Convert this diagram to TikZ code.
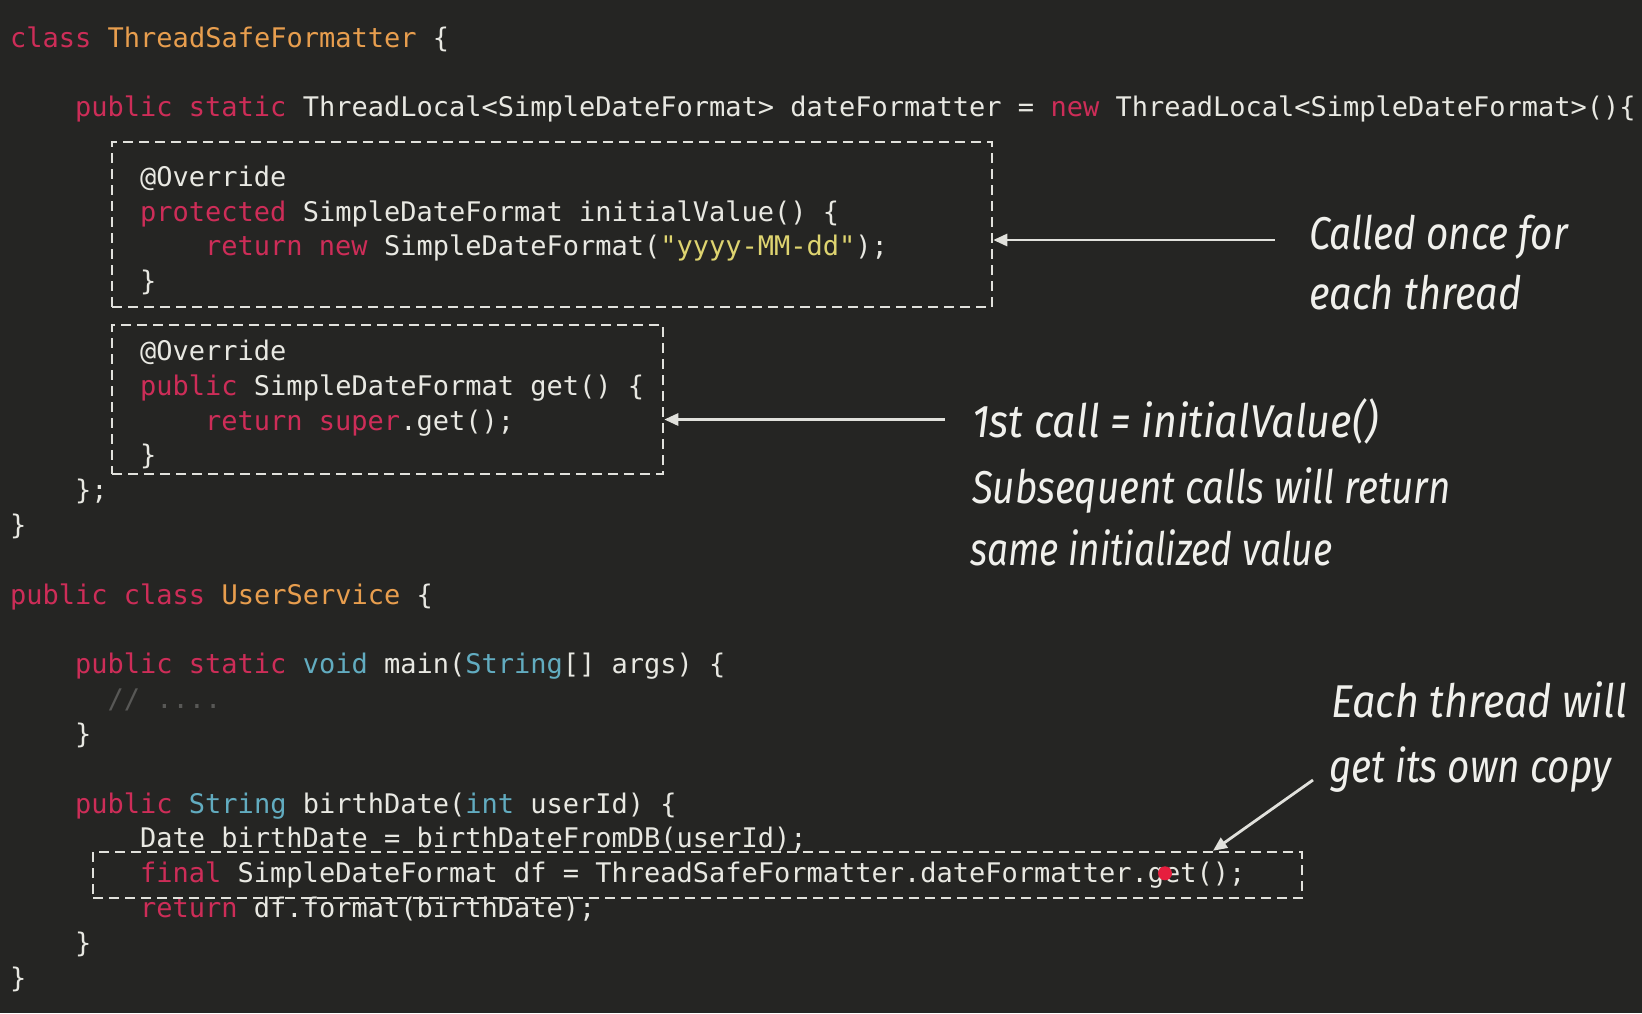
\documentclass[tikz,border=0pt]{standalone}
\usepackage{fontspec}
\setmonofont{DejaVu Sans Mono}
\newfontfamily\handfont{Fira Sans}
\usetikzlibrary{arrows.meta,fit,calc}
\definecolor{bg}{RGB}{37,37,35}
\definecolor{fg}{RGB}{232,232,226}
\definecolor{kw}{RGB}{205,45,88}
\definecolor{cl}{RGB}{232,158,78}
\definecolor{ty}{RGB}{98,172,192}
\definecolor{strc}{RGB}{222,212,112}
\definecolor{cm}{RGB}{88,88,86}
\definecolor{boxc}{RGB}{225,225,220}
\definecolor{hw}{RGB}{240,240,236}
\definecolor{dot}{RGB}{230,30,62}
\newcommand\kwd[1]{\textcolor{kw}{#1}}
\newcommand\cls[1]{\textcolor{cl}{#1}}
\newcommand\typ[1]{\textcolor{ty}{#1}}
\newcommand\strg[1]{\textcolor{strc}{#1}}
\newcommand\cmt[1]{\textcolor{cm}{#1}}
\newcommand\hwtext[2]{\resizebox{#1}{\height}{\handfont\itshape #2}}
\begin{document}
\begin{tikzpicture}[x=1pt,y=-1pt,
  code/.style={anchor=base west,inner sep=0pt,text=fg,font=\ttfamily\fontsize{27}{32}\selectfont},
  hand/.style={anchor=base west,inner sep=0pt,text=hw,font=\fontsize{46}{50}\selectfont},
  dbox/.style={draw=boxc,line width=2.5pt,dash pattern=on 10pt off 6pt,inner sep=0pt},
  arr/.style={draw=boxc,line width=2.8pt,-{Triangle[length=14pt,width=12pt]}}]
\useasboundingbox (0,0) rectangle (1642,1013);
\fill[bg] (0,0) rectangle (1642,1013);

% code lines
\node[code] (c0)  at (10,47)      {\kwd{class} \cls{ThreadSafeFormatter} \{};
\node[code] (c1)  at (75,116.6)   {\kwd{public static} ThreadLocal<SimpleDateFormat> dateFormatter = \kwd{new} ThreadLocal<SimpleDateFormat>()\{};
\node[code] (c2)  at (140,186.3)  {@Override};
\node[code] (c3)  at (140,221.1)  {\kwd{protected} SimpleDateFormat initialValue() \{};
\node[code] (c4)  at (205,255.9)  {\kwd{return new} SimpleDateFormat(\strg{"yyyy-MM-dd"});};
\node[code] (c5)  at (140,290.7)  {\}};
\node[code] (c6)  at (140,360.4)  {@Override};
\node[code] (c7)  at (140,395.2)  {\kwd{public} SimpleDateFormat get() \{};
\node[code] (c8)  at (205,430.0)  {\kwd{return super}.get();};
\node[code] (c9)  at (140,464.8)  {\}};
\node[code] (c10) at (75,499.7)   {\};};
\node[code] (c11) at (10,534.5)   {\}};
\node[code] (c12) at (10,604.1)   {\kwd{public class} \cls{UserService} \{};
\node[code] (c13) at (75,673.8)   {\kwd{public static} \typ{void} main(\typ{String}[] args) \{};
\node[code] (c14) at (107.5,708.6){\cmt{// ....}};
\node[code] (c15) at (75,743.4)   {\}};
\node[code] (c16) at (75,813.0)   {\kwd{public} \typ{String} birthDate(\typ{int} userId) \{};
\node[code] (c17) at (140,847.9)  {Date birthDate = birthDateFromDB(userId);};
\node[code] (c18) at (140,882.7)  {\kwd{final} SimpleDateFormat df = ThreadSafeFormatter.dateFormatter.get();};
\node[code] (c19) at (140,917.5)  {\kwd{return} df.format(birthDate);};
\node[code] (c20) at (75,952.3)   {\}};
\node[code] (c21) at (10,987.1)   {\}};

% dashed boxes
\node[dbox,fit={(112,142) (992,307)}] (box1) {};
\node[dbox,fit={(112,325) (663,474)}] (box2) {};
\node[dbox,fit={(93,852) (1302,898)}] (box3) {};

% red dot
\fill[dot] (1165,873.3) circle (7);

% handwritten notes
\node[hand] (h1) at (1309,249) {\hwtext{258.7pt}{Called once for}};
\node[hand] (h2) at (1309,309) {\hwtext{212.6pt}{each thread}};
\node[hand] (h3) at (972,437)  {\hwtext{406pt}{1st call = initialValue()}};
\node[hand] (h4) at (972,503)  {\hwtext{478.6pt}{Subsequent calls will return}};
\node[hand] (h5) at (970,565)  {\hwtext{362pt}{same initialized value}};
\node[hand] (h6) at (1331,717) {\hwtext{296pt}{Each thread will}};
\node[hand] (h7) at (1329,782) {\hwtext{282pt}{get its own copy}};

% arrows
\coordinate (a1s) at (1275,240);
\coordinate (a2s) at (945,419.5);
\coordinate (a3s) at (1313,780);
\coordinate (a3x) at (1213,0);
\draw[arr] (a1s) -- (a1s -| box1.east);
\draw[arr] (a2s) -- (a2s -| box2.east);
\draw[arr] (a3s) -- (a3x |- box3.north);
\end{tikzpicture}
\end{document}
